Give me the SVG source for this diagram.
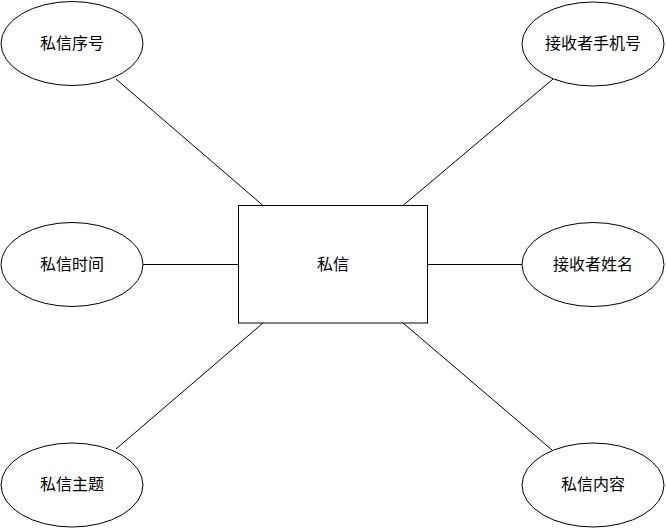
<svg xmlns="http://www.w3.org/2000/svg" width="666" height="529" viewBox="0 0 666 529">
<style>
.shape{fill:#fff;stroke:#000;stroke-width:1}
.conn line{stroke:#000;stroke-width:1}
text{font-family:"Noto Sans CJK SC","Noto Sans CJK JP",sans-serif;font-size:16px;fill:#000;text-anchor:middle;dominant-baseline:central}
</style>
<rect width="666" height="529" fill="#fff"/>
<g id="connectors" class="conn">
<line x1="116" y1="79" x2="263" y2="205.5"/>
<line x1="553" y1="79" x2="403" y2="205.5"/>
<line x1="143" y1="264.5" x2="238.5" y2="264.5"/>
<line x1="427.5" y1="264.5" x2="523" y2="264.5"/>
<line x1="263" y1="323" x2="116" y2="449"/>
<line x1="403" y1="323" x2="552" y2="450"/>
</g>
<g id="main">
<rect class="shape" x="238.5" y="205.5" width="189" height="117.5"/>
<text x="333" y="263">私信</text>
</g>
<g id="n1">
<ellipse class="shape" cx="72" cy="43.5" rx="71" ry="42"/>
<text x="72" y="42">私信序号</text>
</g>
<g id="n2">
<ellipse class="shape" cx="593" cy="44" rx="71" ry="42"/>
<text x="593" y="42">接收者手机号</text>
</g>
<g id="n3">
<ellipse class="shape" cx="72" cy="264.5" rx="71" ry="42"/>
<text x="72" y="263">私信时间</text>
</g>
<g id="n4">
<ellipse class="shape" cx="593" cy="264.5" rx="71" ry="42"/>
<text x="593" y="263">接收者姓名</text>
</g>
<g id="n5">
<ellipse class="shape" cx="72" cy="485" rx="71" ry="42"/>
<text x="72" y="483">私信主题</text>
</g>
<g id="n6">
<ellipse class="shape" cx="593" cy="485" rx="71" ry="42"/>
<text x="593" y="483">私信内容</text>
</g>
</svg>
